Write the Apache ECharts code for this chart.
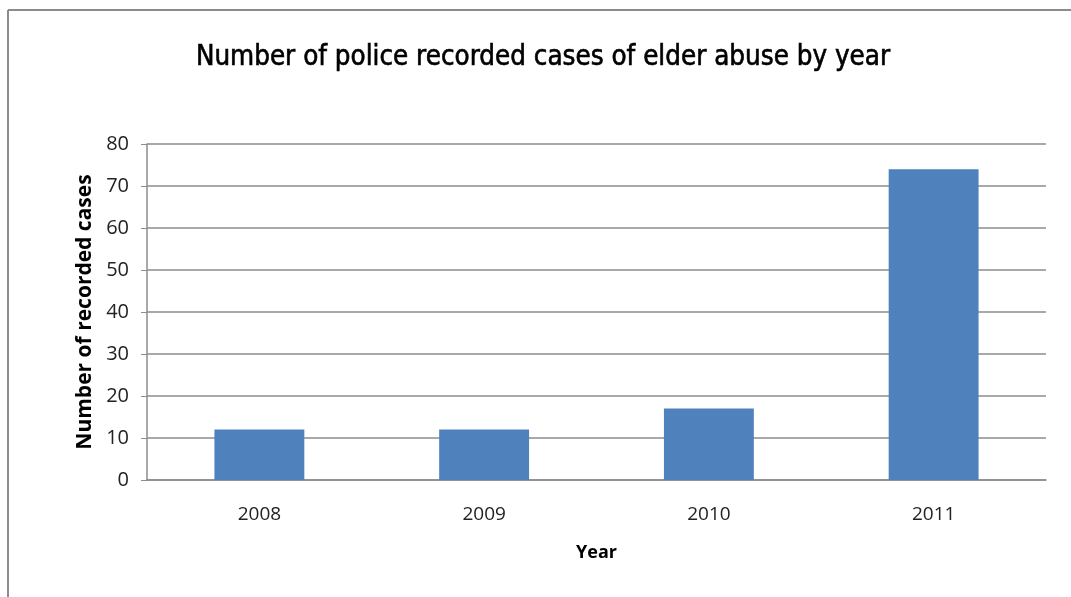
<!DOCTYPE html>
<html><head><meta charset="utf-8">
<script src="https://cdn.jsdelivr.net/npm/echarts@6/dist/echarts.min.js"></script>
<style>html,body{margin:0;padding:0;background:#fff}#c{width:1071px;height:597px}</style>
</head><body><div id="c"></div>
<script>
const categories = ['2008', '2009', '2010', '2011'];
const cases = [12, 12, 17, 74];
const titleText = 'Number of police recorded cases of elder abuse by year';
const yName = 'Number of recorded cases';
const xName = 'Year';

const chart = echarts.init(document.getElementById('c'), null, {renderer: 'canvas'});
chart.setOption({
  backgroundColor: '#fff',
  animation: false,
  graphic: [
    {type: 'line', shape: {x1: 8, y1: 10, x2: 1071, y2: 10}, style: {stroke: '#8c8c8c', lineWidth: 2}},
    {type: 'line', shape: {x1: 8, y1: 10, x2: 8, y2: 597}, style: {stroke: '#8c8c8c', lineWidth: 2}}
  ],
  title: {
    text: titleText, left: 538, top: 39, textAlign: 'center',
    textStyle: {fontFamily: 'DejaVu Sans Condensed, sans-serif', fontSize: 27.5, fontWeight: 'normal', color: '#000',
      textBorderColor: '#000', textBorderWidth: 0.6}
  },
  grid: {left: 147, right: 25, top: 144, bottom: 117},
  xAxis: {
    type: 'category', data: categories,
    name: xName, nameLocation: 'middle', nameGap: 64,
    nameTextStyle: {fontFamily: 'Open Sans, sans-serif', fontSize: 18, fontWeight: 'bold', color: '#000'},
    axisLine: {lineStyle: {color: '#8c8c8c', width: 1.5}},
    axisTick: {show: false},
    axisLabel: {fontFamily: 'Open Sans, sans-serif', fontSize: 19, color: '#222', margin: 25}
  },
  yAxis: {
    type: 'value', min: 0, max: 80, interval: 10,
    name: yName, nameLocation: 'middle', nameGap: 50, nameRotate: 90,
    nameTextStyle: {fontFamily: 'Open Sans, sans-serif', fontSize: 21, fontWeight: 'bold', color: '#000'},
    axisLine: {show: true, lineStyle: {color: '#8c8c8c', width: 1.5}},
    axisTick: {show: true, length: 6, lineStyle: {color: '#8c8c8c'}},
    splitLine: {lineStyle: {color: '#8c8c8c', width: 1.5}},
    axisLabel: {fontFamily: 'Open Sans, sans-serif', fontSize: 20, color: '#222', margin: 18}
  },
  series: [{
    type: 'bar', data: cases, barWidth: '40%',
    itemStyle: {color: '#4f81bd'}
  }]
});
</script></body></html>
